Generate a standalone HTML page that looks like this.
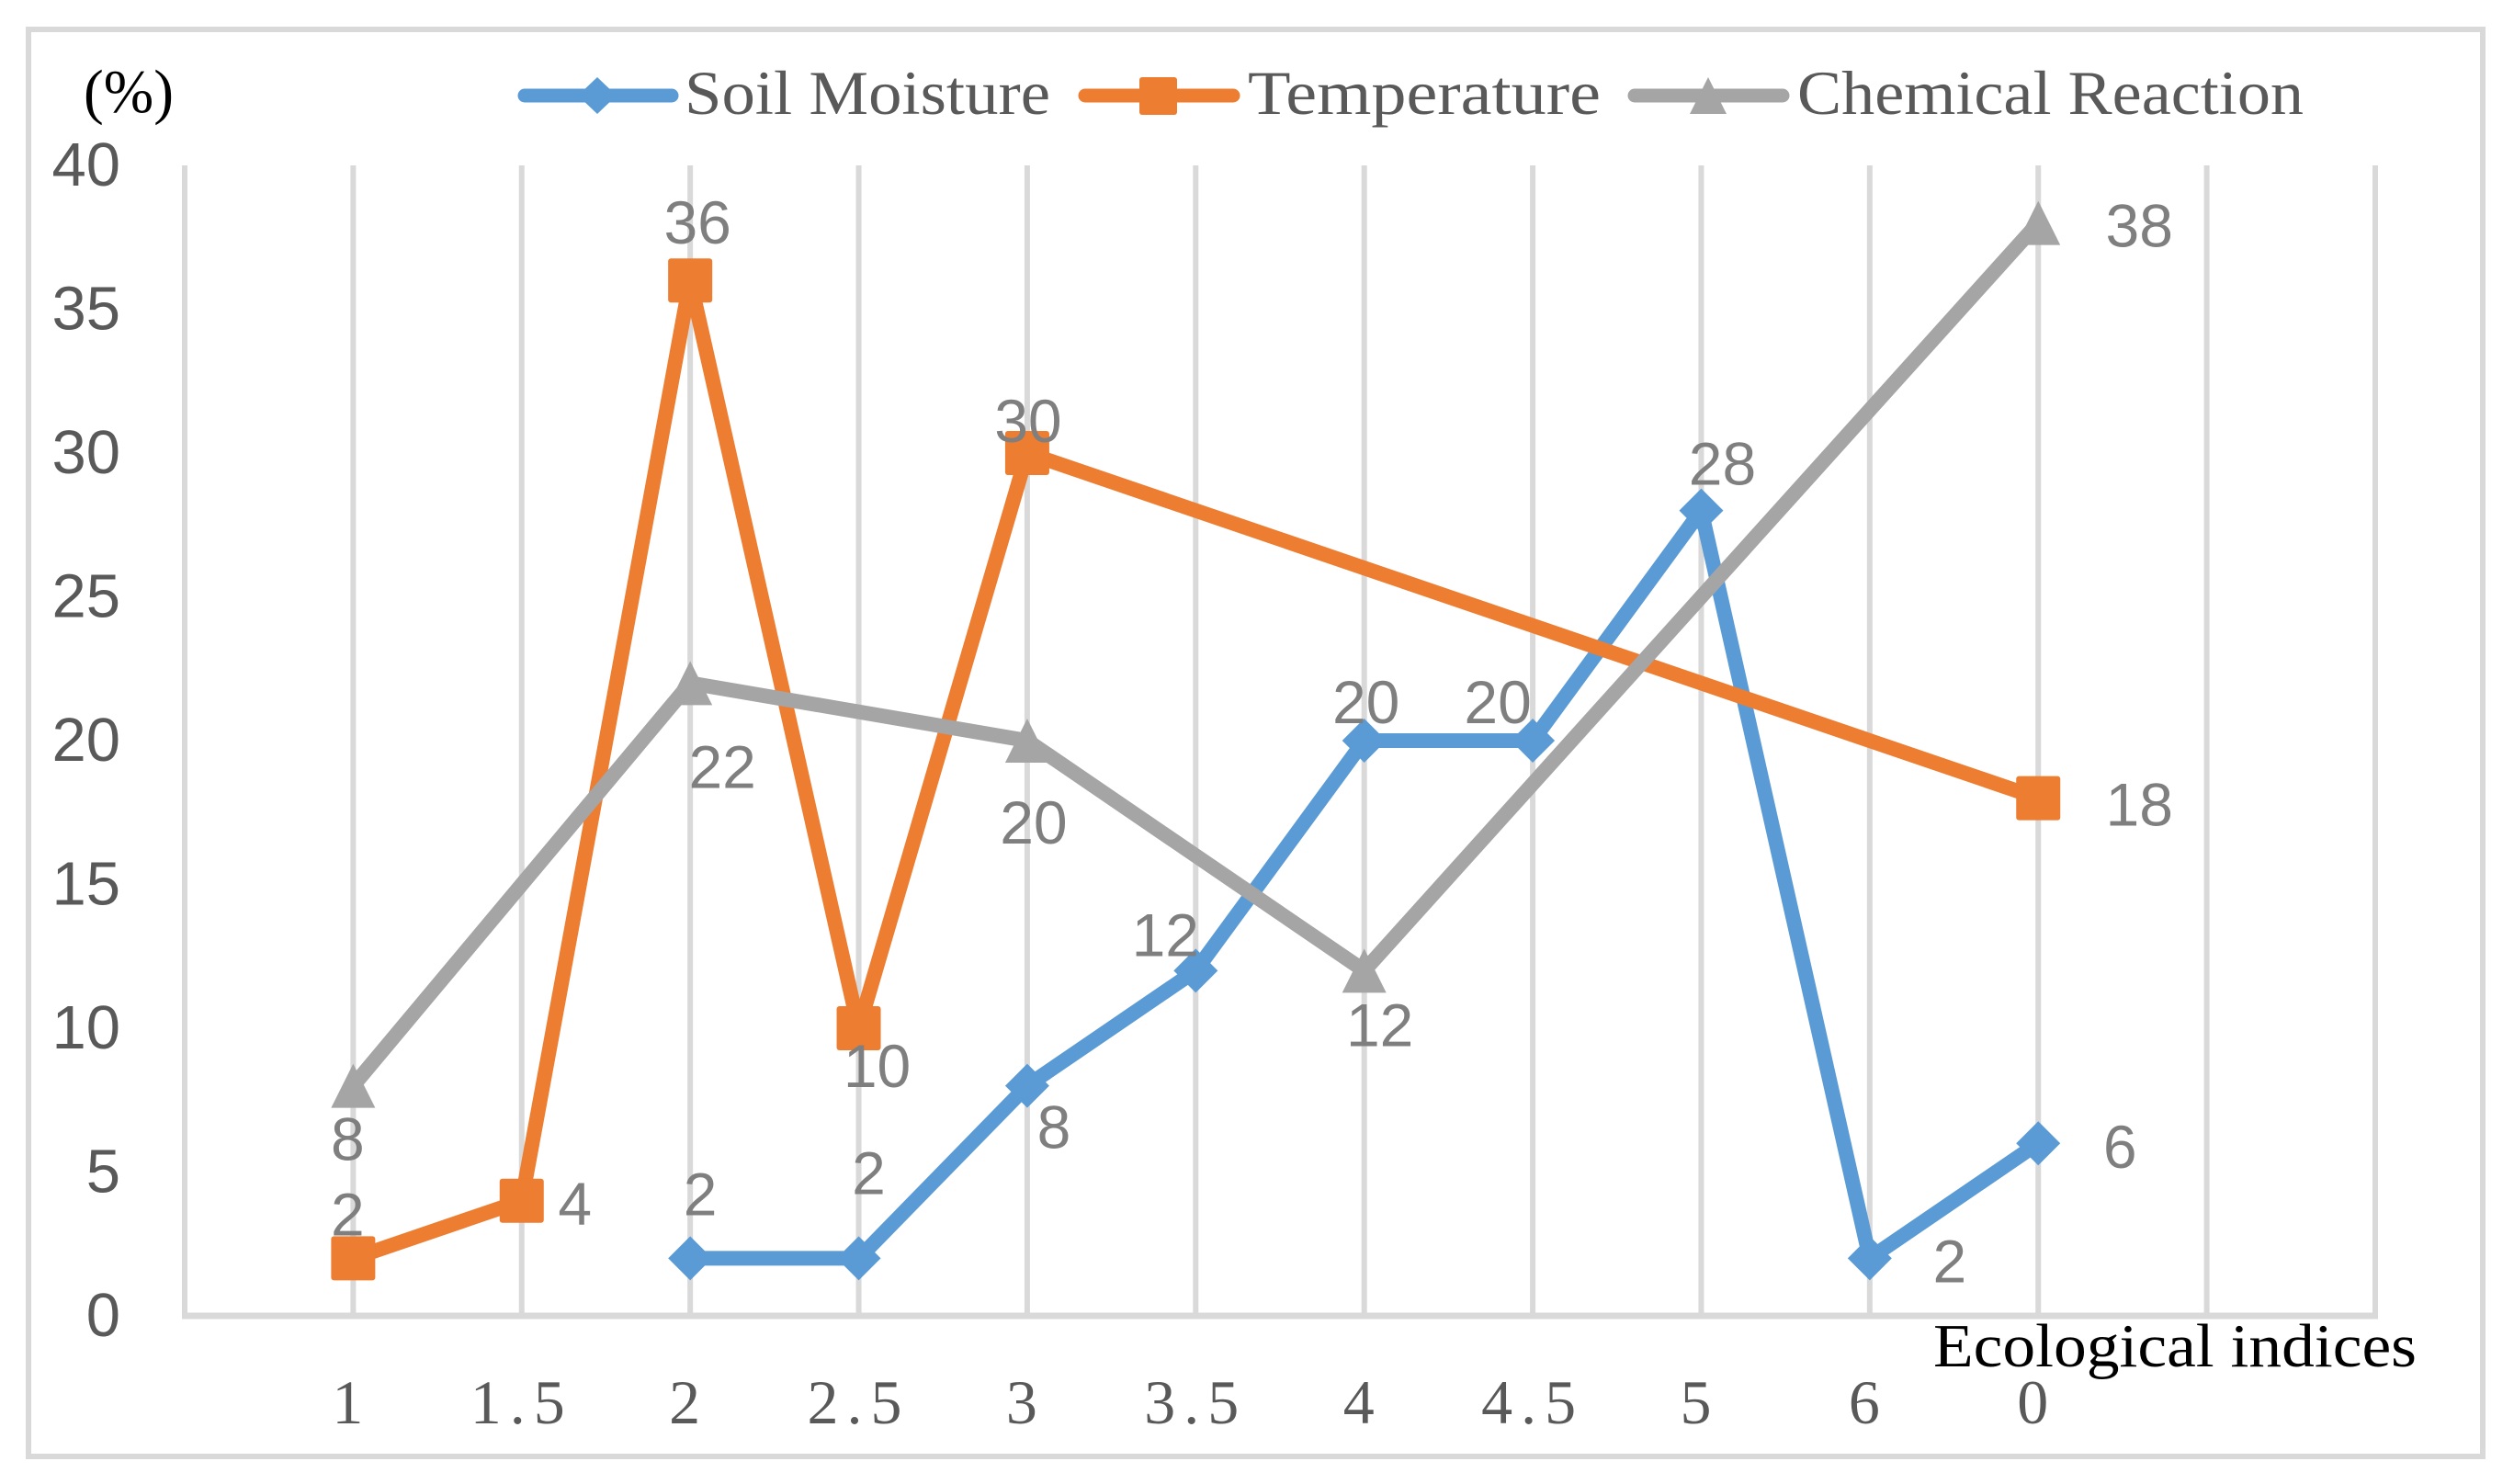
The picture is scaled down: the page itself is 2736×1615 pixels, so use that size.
<!DOCTYPE html>
<html lang="en">
<head>
<meta charset="utf-8">
<title>Ecological indices chart</title>
<style>
html,body{margin:0;padding:0;background:#fff;}
svg{display:block;}
.tick-y{font-family:"Liberation Sans",sans-serif;font-size:67px;fill:#595959;text-anchor:end;}
.tick-x{font-family:"Liberation Serif",serif;font-size:68px;fill:#595959;text-anchor:middle;}
.value{font-family:"Liberation Sans",sans-serif;font-size:66px;fill:#7f7f7f;text-anchor:middle;}
.legend-text{font-family:"Liberation Serif",serif;font-size:68px;fill:#595959;}
.axis-title{font-family:"Liberation Serif",serif;font-size:67px;fill:#000;}
</style>
</head>
<body>
<svg id="chart" xmlns="http://www.w3.org/2000/svg" width="2736" height="1615" viewBox="0 0 2736 1615">
  <rect x="0" y="0" width="2736" height="1615" fill="#ffffff"/>
  <rect x="31" y="32" width="2671" height="1553" fill="none" stroke="#d9d9d9" stroke-width="6"/>
  <g id="grid"></g>
  <g id="yticks"></g>
  <g id="xticks"></g>
  <g id="series"></g>
  <g id="labels"></g>
  <text class="axis-title" x="91" y="122" textLength="98" lengthAdjust="spacingAndGlyphs">(%)</text>
  <text class="axis-title" x="2104" y="1487" textLength="526" lengthAdjust="spacingAndGlyphs">Ecological indices</text>
  <g>
    <g>
      <line x1="571" y1="104" x2="731" y2="104" stroke="#5b9bd5" stroke-width="15" stroke-linecap="round"/>
      <polygon points="650,84 671,104 650,124 629,104" fill="#5b9bd5"/>
      <text class="legend-text" x="745" y="124" textLength="398" lengthAdjust="spacingAndGlyphs">Soil Moisture</text>
    </g>
    <g>
      <line x1="1181" y1="104" x2="1342" y2="104" stroke="#ed7d31" stroke-width="15" stroke-linecap="round"/>
      <rect x="1240" y="84" width="41" height="41" rx="3" fill="#ed7d31"/>
      <text class="legend-text" x="1358" y="124" textLength="384" lengthAdjust="spacingAndGlyphs">Temperature</text>
    </g>
    <g>
      <line x1="1779" y1="104" x2="1940" y2="104" stroke="#a5a5a5" stroke-width="15" stroke-linecap="round"/>
      <polygon points="1859,84 1879,124 1839,124" fill="#a5a5a5"/>
      <text class="legend-text" x="1956" y="124" textLength="551" lengthAdjust="spacingAndGlyphs">Chemical Reaction</text>
    </g>
  </g>
</svg>
<script>
const categories = ['1', '1.5', '2', '2.5', '3', '3.5', '4', '4.5', '5', '6', '0'];
const yTickValues = [0, 5, 10, 15, 20, 25, 30, 35, 40];
const soilMoisture = [null, null, 2, 2, 8, 12, 20, 20, 28, 2, 6];
const temperature = [2, 4, 36, 10, 30, null, null, null, null, null, 18];
const chemicalReaction = [8, null, 22, null, 20, null, 12, null, null, null, 38];

const NS = 'http://www.w3.org/2000/svg';
const plot = { left: 201, right: 2585, top: 180, bottom: 1432, slots: 13, yMax: 40 };

function xAt(i) {
  return plot.left + (plot.right - plot.left) * (i + 1) / plot.slots;
}
function yAt(v) {
  return plot.bottom - (plot.bottom - plot.top) * v / plot.yMax;
}
function make(tag, attrs, parent, text) {
  const node = document.createElementNS(NS, tag);
  Object.keys(attrs).forEach(function (k) { node.setAttribute(k, attrs[k]); });
  if (text !== undefined) node.textContent = text;
  parent.appendChild(node);
  return node;
}

const gridGroup = document.getElementById('grid');
for (let s = 0; s <= plot.slots; s++) {
  const gx = plot.left + (plot.right - plot.left) * s / plot.slots;
  const gl = make('line', { x1: gx, x2: gx, y1: plot.top, y2: plot.bottom, stroke: '#d9d9d9', 'stroke-width': 6 }, gridGroup);
  
  
}
const axisLine = make('line', { x1: plot.left - 3, x2: plot.right + 3, y1: plot.bottom, y2: plot.bottom, stroke: '#d9d9d9', 'stroke-width': 7 }, gridGroup);



const yGroup = document.getElementById('yticks');
yTickValues.forEach(function (v) {
  const t = make('text', { class: 'tick-y', x: 131, y: yAt(v) + 22 }, yGroup, String(v));
  
  
});

const xGroup = document.getElementById('xticks');
categories.forEach(function (c, i) {
  const decimal = c.indexOf('.') >= 0;
  const t = make('text', { class: 'tick-x', x: xAt(i) + (decimal ? 0 : -6), y: 1549 }, xGroup, c);
  if (decimal) t.setAttribute('letter-spacing', '9');
  
  
});

const seriesList = [
  { key: 'soil-moisture', values: soilMoisture, color: '#5b9bd5', marker: 'diamond',
    nudge: { 2: [11, -47], 3: [11, -70], 4: [29, 68], 5: [-33, -16], 6: [2, -19], 7: [-38, -19], 8: [23, -28], 9: [87, 26], 10: [89, 27] } },
  { key: 'temperature', values: temperature, color: '#ed7d31', marker: 'square',
    nudge: { 0: [-6, -25], 1: [58, 26], 2: [8, -40], 3: [20, 64], 4: [1, -12], 10: [110, 30] } },
  { key: 'chemical-reaction', values: chemicalReaction, color: '#a5a5a5', marker: 'triangle',
    nudge: { 0: [-6, 81], 2: [35, 114], 4: [7, 112], 6: [17, 82], 10: [110, 26] } }
];

const seriesGroup = document.getElementById('series');
const labelGroup = document.getElementById('labels');
const R = 24;

seriesList.forEach(function (s) {
  const pts = [];
  s.values.forEach(function (v, i) {
    if (v !== null) pts.push(xAt(i) + ',' + yAt(v));
  });
  const line = make('polyline', { points: pts.join(' '), fill: 'none', stroke: s.color, 'stroke-width': 16, 'stroke-linejoin': 'round', 'stroke-linecap': 'round' }, seriesGroup);
  
  

  s.values.forEach(function (v, i) {
    if (v === null) return;
    const cx = xAt(i), cy = yAt(v);
    let m;
    if (s.marker === 'square') {
      m = make('rect', { x: cx - R, y: cy - R, width: 2 * R, height: 2 * R, rx: 3, fill: s.color }, seriesGroup);
    } else if (s.marker === 'diamond') {
      m = make('polygon', { points: cx + ',' + (cy - R) + ' ' + (cx + R) + ',' + cy + ' ' + cx + ',' + (cy + R) + ' ' + (cx - R) + ',' + cy, fill: s.color }, seriesGroup);
    } else {
      m = make('polygon', { points: cx + ',' + (cy - R) + ' ' + (cx + R) + ',' + (cy + R) + ' ' + (cx - R) + ',' + (cy + R), fill: s.color }, seriesGroup);
    }
    
    

    const n = s.nudge[i] || [0, -30];
    const t = make('text', { class: 'value', x: cx + n[0], y: cy + n[1] }, labelGroup, String(v));
    
    
  });
});
</script>
</body>
</html>
